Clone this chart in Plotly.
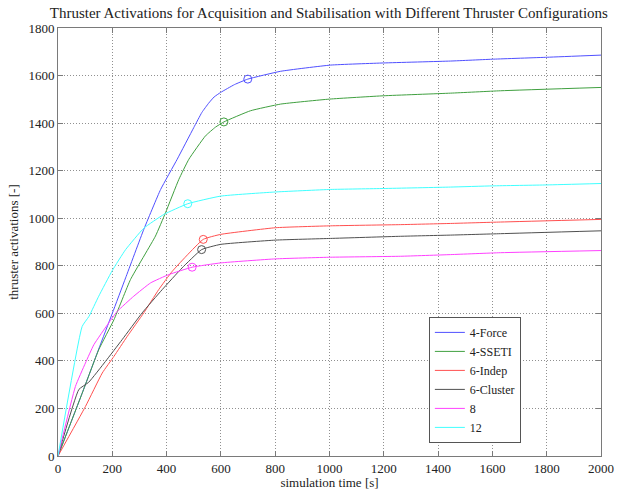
import plotly.graph_objects as go

# ---- data ----
names = ["4-Force", "4-SSETI", "6-Indep", "6-Cluster", "8", "12"]
colors = ["#5050ff", "#40a040", "#ff5050", "#505050", "#ff40ff", "#40ffff"]

force_t = [0, 89, 150, 200, 249, 316, 378, 439, 500, 530, 555, 575, 599, 650, 699, 820, 1004, 1200, 1446, 1605, 1802, 2000]
force_y = [0, 264, 450, 600, 749, 953, 1121, 1248, 1381, 1445, 1484, 1510, 1529, 1562, 1585, 1618, 1644, 1653, 1661, 1669, 1677, 1686]

sseti_t = [0, 89, 150, 206, 267, 359, 396, 445, 482, 543, 580, 611, 709, 820, 1000, 1200, 1446, 1630, 2000]
sseti_y = [0, 264, 447, 573, 742, 925, 1023, 1163, 1248, 1346, 1383, 1405, 1452, 1480, 1501, 1515, 1526, 1536, 1550]

indep_t = [0, 101, 163, 206, 255, 316, 371, 421, 535, 599, 801, 1004, 1261, 1446, 1630, 2000]
indep_y = [0, 208, 349, 419, 503, 602, 700, 777, 911, 932, 960, 968, 973, 978, 984, 995]

cluster_t = [0, 77, 113, 175, 236, 310, 384, 457, 529, 599, 801, 1004, 1261, 1446, 1630, 2000]
cluster_y = [0, 280, 310, 398, 489, 602, 700, 791, 868, 890, 908, 915, 924, 929, 935, 947]

eight_t = [0, 64, 101, 132, 187, 218, 279, 341, 408, 494, 599, 801, 1004, 1261, 1446, 1630, 2000]
eight_y = [0, 292, 391, 468, 560, 608, 672, 728, 763, 794, 812, 829, 836, 840, 847, 855, 864]

twelve_t = [0, 89, 114, 150, 200, 249, 316, 390, 478, 599, 795, 1004, 1200, 1446, 1600, 1800, 2000]
twelve_y = [0, 545, 587, 672, 780, 868, 958, 1016, 1061, 1093, 1110, 1121, 1125, 1131, 1136, 1140, 1146]

# circle markers (end of acquisition phase)
mark_t = [699, 611, 535, 529, 494, 478]
mark_y = [1585, 1405, 911, 868, 794, 1061]

xticks = list(range(0, 2001, 200))
yticks = list(range(0, 1801, 200))

series_t = [force_t, sseti_t, indep_t, cluster_t, eight_t, twelve_t]
series_y = [force_y, sseti_y, indep_y, cluster_y, eight_y, twelve_y]

FONT = "Liberation Serif"

fig = go.Figure()
for n, c, t, y in zip(names, colors, series_t, series_y):
    fig.add_trace(go.Scatter(x=t, y=y, mode="lines", name=n,
                             line=dict(color=c, width=1, shape="spline", smoothing=0.4)))
for n, c, mt, my in zip(names, colors, mark_t, mark_y):
    fig.add_trace(go.Scatter(x=[mt], y=[my], mode="markers", showlegend=False,
                             marker=dict(symbol="circle-open", size=8, color=c,
                                         line=dict(width=1, color=c))))

axis_common = dict(showline=True, linecolor="#7a7a7a", linewidth=1, mirror="ticks",
                   ticks="inside", ticklen=5, tickcolor="#7a7a7a", automargin=False,
                   showgrid=True, gridcolor="#909090", griddash="1px,2px", gridwidth=1,
                   zeroline=False, tickfont=dict(family=FONT, size=13, color="#222"))

fig.update_layout(
    width=617, height=490,
    margin=dict(l=58, r=16, t=28, b=34),
    paper_bgcolor="white", plot_bgcolor="white",
    title=dict(text="Thruster Activations for Acquisition and Stabilisation with Different Thruster Configurations",
               x=0.533, xanchor="center", y=0.985, yanchor="top",
               font=dict(family=FONT, size=15, color="#222")),
    xaxis=dict(range=[0, 2000], tickvals=xticks, ticktext=[str(v) for v in xticks],
               title=dict(text="simulation time [s]", font=dict(family=FONT, size=13, color="#222"), standoff=2),
               **axis_common),
    yaxis=dict(range=[0, 1800], tickvals=yticks, ticktext=[str(v) for v in yticks],
               title=dict(text="thruster activations [-]", font=dict(family=FONT, size=13, color="#222"), standoff=6),
               **axis_common),
    legend=dict(x=0.683, y=0.325, xanchor="left", yanchor="top",
                bgcolor="white", bordercolor="#555", borderwidth=1,
                font=dict(family=FONT, size=12, color="#222"),
                tracegroupgap=0, itemwidth=30),
    showlegend=True,
)

fig.write_html("out.html")
